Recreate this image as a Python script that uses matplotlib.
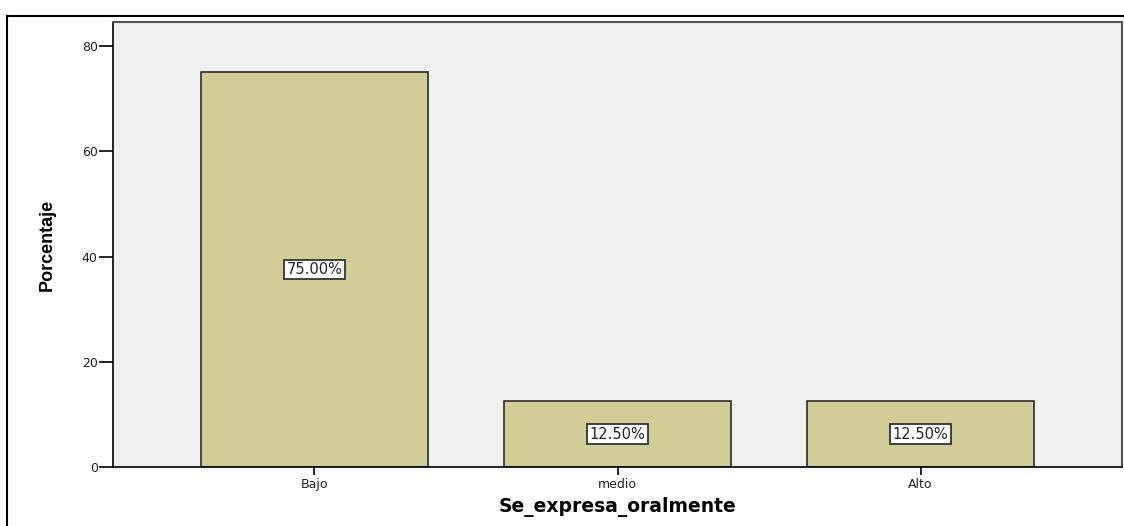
import matplotlib
matplotlib.use('Agg')
import matplotlib.pyplot as plt
from matplotlib.lines import Line2D

categories = ['Bajo', 'medio', 'Alto']
percentages = [75.0, 12.5, 12.5]
yticks = [0, 20, 40, 60, 80]

fig = plt.figure(figsize=(11.24, 5.26), dpi=100)
ax = fig.add_axes([113 / 1124, 1 - 467 / 526, 1009 / 1124, 445 / 526])
ax.set_facecolor('#f0f0f0')

x = list(range(len(categories)))
ax.bar(x, percentages, width=0.75, color='#d2cd96', edgecolor='#2b2b2b',
       linewidth=1.2, zorder=2)

# value labels in the middle of each bar
for xi, val in zip(x, percentages):
    ax.text(xi, val / 2, f"{val:.2f}%", ha='center', va='center',
            fontsize=10.5, family='DejaVu Sans', color='#222222', zorder=3,
            bbox=dict(boxstyle='square,pad=0.15', facecolor='white',
                      edgecolor='#333333', linewidth=1.3))

ax.set_xlim(-0.665, 2.665)
ax.set_ylim(0, 84.6)
ax.set_xticks(x)
ax.set_xticklabels(categories)
ax.set_yticks(yticks)
ax.tick_params(axis='both', direction='out', width=1.2,
               labelsize=9, colors='black', labelcolor='#222222')
ax.tick_params(axis='y', length=10, pad=1)
ax.tick_params(axis='x', length=6, pad=2)

for side in ['left', 'bottom']:
    ax.spines[side].set_color('black')
    ax.spines[side].set_linewidth(1.2)
for side in ['top', 'right']:
    ax.spines[side].set_color('#555555')
    ax.spines[side].set_linewidth(1.5)

ax.set_ylabel('Porcentaje', fontsize=13, fontweight='bold',
              family=['Liberation Sans Narrow', 'Liberation Sans'], labelpad=19)
ax.set_xlabel('Se_expresa_oralmente', fontsize=13.5, fontweight='bold',
              family='DejaVu Sans', labelpad=4)

# outer frame (clipped by the image edge on right and bottom)
fig.add_artist(Line2D([7 / 1124, 7 / 1124], [0, 1 - 16 / 526],
                      transform=fig.transFigure, color='black', lw=1.5))
fig.add_artist(Line2D([7 / 1124, 1], [1 - 16 / 526, 1 - 16 / 526],
                      transform=fig.transFigure, color='black', lw=1.5))

fig.savefig('out.png', dpi=100)
plt.close(fig)
